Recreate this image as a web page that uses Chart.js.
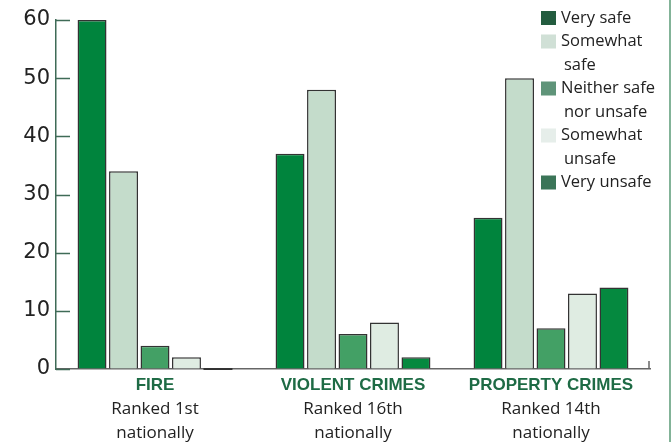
<!DOCTYPE html>
<html>
<head>
<meta charset="utf-8">
<script src="https://cdn.jsdelivr.net/npm/chart.js"></script>
<style>
  html, body { margin: 0; padding: 0; background: #fff; }
  .chart-div { position: relative; width: 671px; height: 442px; }
</style>
</head>
<body>
<div class="chart-div"><canvas id="chart"></canvas></div>
<script>
const categories = ["FIRE", "VIOLENT CRIMES", "PROPERTY CRIMES"];
const rankLabels = ["Ranked 1st", "Ranked 16th", "Ranked 14th"];
const rankSuffix = "nationally";

const seriesNames = ["Very safe", "Somewhat safe", "Neither safe nor unsafe", "Somewhat unsafe", "Very unsafe"];
const legendLines = [["Very safe"], ["Somewhat", "safe"], ["Neither safe", "nor unsafe"], ["Somewhat", "unsafe"], ["Very unsafe"]];
const verySafe = [60, 37, 26];
const somewhatSafe = [34, 48, 50];
const neither = [4, 6, 7];
const somewhatUnsafe = [2, 8, 13];
const veryUnsafe = [0, 2, 14];
const yTicks = [0, 10, 20, 30, 40, 50, 60];

const barColors = ["#00843d", "#c4dccb", "#43a065", "#dfece2", "#05893f"];
const legendColors = ["#235c3f", "#d0e0d6", "#5f9479", "#e6eeea", "#3b7558"];

const seriesValues = [verySafe, somewhatSafe, neither, somewhatUnsafe, veryUnsafe];

const chartContainer = document.getElementById("chart");

// draws y ticks inside the plot, the x labels, the legend and the frame line
const decorPlugin = {
  id: "decor",
  afterDraw(chart) {
    const ctx = chart.ctx;
    const area = chart.chartArea;
    const y = chart.scales.y;
    const x = chart.scales.x;
    ctx.save();

    // y ticks pointing into the plot
    ctx.strokeStyle = "#3f6b57";
    ctx.lineWidth = 1.5;
    yTicks.forEach((v) => {
      const py = Math.round(y.getPixelForValue(v)) + 0.5;
      ctx.beginPath();
      ctx.moveTo(area.left, py);
      ctx.lineTo(area.left + 14, py);
      ctx.stroke();
    });

    // small end tick on the baseline
    ctx.strokeStyle = "#666";
    ctx.beginPath();
    ctx.moveTo(area.right - 1, area.bottom);
    ctx.lineTo(area.right - 1, area.bottom - 8);
    ctx.stroke();

    // zero-height bar shows as a dark line on the baseline
    chart.data.datasets.forEach((ds, di) => {
      chart.getDatasetMeta(di).data.forEach((bar, i) => {
        if (ds.data[i] === 0) {
          ctx.strokeStyle = "#333";
          ctx.lineWidth = 2;
          ctx.beginPath();
          ctx.moveTo(bar.x - bar.width / 2, area.bottom);
          ctx.lineTo(bar.x + bar.width / 2, area.bottom);
          ctx.stroke();
        }
      });
    });

    // category labels
    ctx.textAlign = "center";
    ctx.textBaseline = "middle";
    categories.forEach((c, i) => {
      const px = x.getPixelForTick(i);
      ctx.fillStyle = "#1e6b45";
      ctx.font = "bold 17px 'Liberation Sans', sans-serif";
      ctx.fillText(c, px, area.bottom + 16);
      ctx.fillStyle = "#222";
      ctx.font = "17px 'Open Sans', sans-serif";
      ctx.fillText(rankLabels[i], px, area.bottom + 40);
      ctx.fillText(rankSuffix, px, area.bottom + 64);
    });

    // legend
    ctx.textAlign = "left";
    ctx.font = "16.5px 'Open Sans', sans-serif";
    let ly = 18;
    legendLines.forEach((lines, i) => {
      ctx.fillStyle = legendColors[i];
      ctx.fillRect(541, ly - 7, 15, 14);
      ctx.fillStyle = "#222";
      lines.forEach((t, j) => {
        ctx.fillText(t, j === 0 ? 561 : 564, ly);
        ly += 23.5;
      });
    });

    // right frame line
    ctx.strokeStyle = "#5a9a76";
    ctx.lineWidth = 1.5;
    ctx.beginPath();
    ctx.moveTo(670, 0);
    ctx.lineTo(670, chart.height);
    ctx.stroke();

    ctx.restore();
  },
};

new Chart(chartContainer, {
  type: "bar",
  data: {
    labels: categories,
    datasets: seriesNames.map((name, i) => ({
      label: name,
      data: seriesValues[i],
      backgroundColor: barColors[i],
      borderColor: "#333",
      borderWidth: 1.5,
      categoryPercentage: 0.795,
      barPercentage: 0.92,
    })),
  },
  options: {
    responsive: true,
    maintainAspectRatio: false,
    animation: false,
    layout: {
      padding: { top: 20, right: 21, left: 0, bottom: 0 },
    },
    plugins: {
      legend: { display: false },
      tooltip: { enabled: false },
    },
    scales: {
      x: {
        grid: { display: false },
        border: { display: true, color: "#666", width: 1.5 },
        ticks: { display: false },
        afterFit(scale) {
          scale.height = 73;
        },
      },
      y: {
        min: 0,
        max: 60,
        ticks: {
          stepSize: 10,
          color: "#222",
          padding: 6,
          font: { family: "'DejaVu Sans', sans-serif", size: 21 },
        },
        grid: { drawOnChartArea: false, drawTicks: false },
        border: { display: true, color: "#3f6b57", width: 1.5 },
        afterFit(scale) {
          scale.width = 56;
        },
      },
    },
  },
  plugins: [decorPlugin],
});
</script>
</body>
</html>
